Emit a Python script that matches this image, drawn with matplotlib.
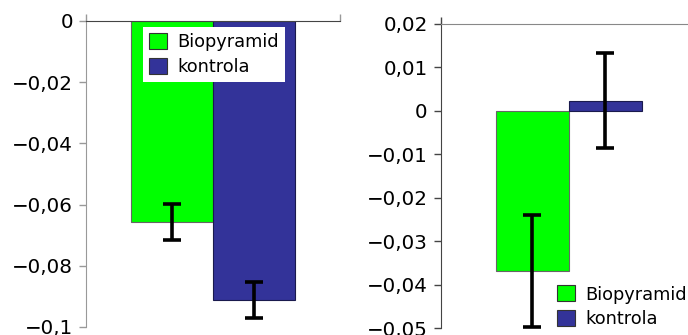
import matplotlib.pyplot as plt
from matplotlib.ticker import FuncFormatter

# skupiny a hodnoty
skupiny = ['Biopyramid', 'kontrola']
barvy = ['#00ff00', '#333399']
okraje = ['#666666', '#1a1a4d']

levy_prumer = [-0.0657, -0.0911]
levy_chyba = [0.0059, 0.0059]
levy_ticks = [0, -0.02, -0.04, -0.06, -0.08, -0.1]

pravy_prumer = [-0.0369, 0.0023]
pravy_chyba = [0.0128, 0.011]
pravy_ticks = [0.02, 0.01, 0, -0.01, -0.02, -0.03, -0.04, -0.05]


def carka(v, pos):
    s = ('%.2f' % v).rstrip('0').rstrip('.')
    if s in ('-0', '0'):
        return '0'
    return s.replace('.', ',').replace('-', '\u2212')


def panel(ax, prumer, chyba, ticks, ylim, xlim, c_left, c_top):
    w = 0.4
    xs = [-w / 2, w / 2]
    for x, m, c, f, e in zip(xs, prumer, chyba, barvy, okraje):
        ax.bar(x, m, width=w, color=f, edgecolor=e, linewidth=0.8)
        ax.errorbar(x, m, yerr=c, color='black', elinewidth=2.6,
                    capsize=6.5, capthick=2.6)
    ax.set_ylim(*ylim)
    ax.set_xlim(*xlim)
    ax.set_yticks(ticks)
    ax.yaxis.set_major_formatter(FuncFormatter(carka))
    ax.xaxis.set_ticks_position('top')
    ax.set_xticks(list(xlim))
    ax.set_xticklabels([])
    for s in ['right', 'bottom']:
        ax.spines[s].set_visible(False)
    ax.spines['left'].set_color(c_left)
    ax.spines['top'].set_color(c_top)
    ax.tick_params(axis='y', direction='out', length=5.3, width=1,
                   color=c_left, labelsize=14.3, pad=4)
    ax.tick_params(axis='x', direction='out', length=5.3, width=1,
                   color=c_left)


fig = plt.figure(figsize=(6.88, 3.35), dpi=100)

ax1 = fig.add_axes([86 / 688, 1 - 327 / 335, 254 / 688, 306 / 335])
panel(ax1, levy_prumer, levy_chyba, levy_ticks, (-0.1, 0), (-0.6195, 0.6195),
      '#999999', '#444444')

ax2 = fig.add_axes([440.7 / 688, 1 - 328 / 335, 256 / 688, 304.3 / 335])
panel(ax2, pravy_prumer, pravy_chyba, pravy_ticks, (-0.05, 0.02), (-0.701, 0.701),
      '#444444', '#888888')

for ax, loc, anchor, tr in [(ax1, 'upper left', (0.224, 0.980), ax1.transAxes),
                            (ax2, 'lower left', (551 / 688, 0.003), fig.transFigure)]:
    hs = [plt.Rectangle((0, 0), 1, 1, facecolor=f, edgecolor='#333333', linewidth=0.8)
          for f in barvy]
    ax.legend(hs, skupiny, loc=loc, bbox_to_anchor=anchor, bbox_transform=tr,
              borderaxespad=0, fontsize=12.8, frameon=True, fancybox=False,
              facecolor='white', edgecolor='none', framealpha=1,
              handlelength=1.0, handleheight=1.0, handletextpad=0.6,
              labelspacing=0.35, borderpad=0.35)

fig.savefig('out.png', dpi=100)
